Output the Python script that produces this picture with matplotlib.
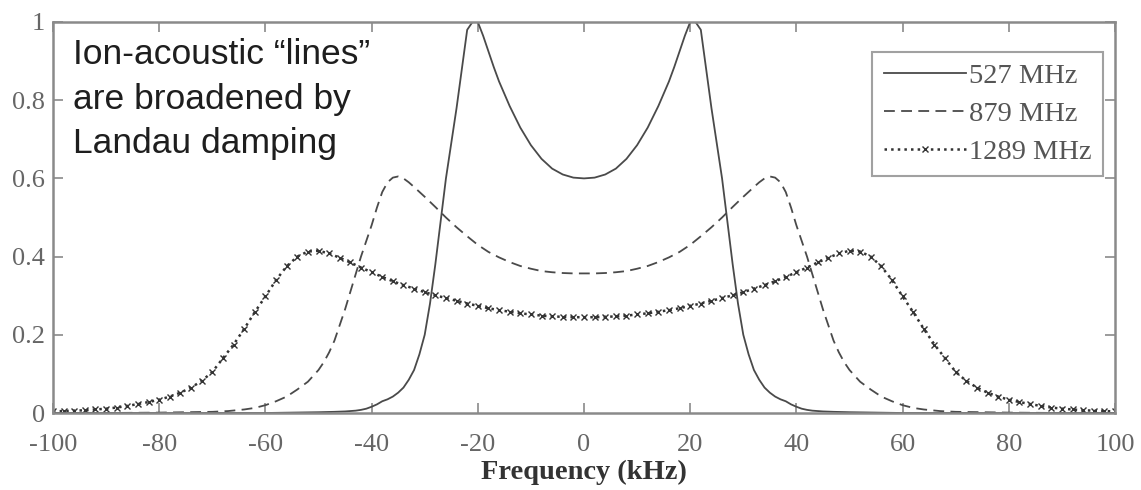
import matplotlib
matplotlib.use("Agg")
import matplotlib.pyplot as plt

# espectros de iones, amplitud normalizada
frec_527 = [-100, -90, -80, -70, -60, -55, -50, -47, -45, -43, -42, -41, -40, -39, -38, -37, -36, -35,
            -34, -33, -32, -31, -30, -29, -28, -27, -26, -25, -24, -23, -22, -21, -20, -19, -18, -17,
            -16, -14, -12, -10, -8, -6, -4, -2, 0,
            2, 4, 6, 8, 10, 12, 14, 16, 17, 18, 19, 20, 21, 22, 23, 24, 25, 26, 27, 28, 29, 30, 31,
            32, 33, 34, 35, 36, 37, 38, 39, 40, 41, 42, 43, 45, 47, 50, 55, 60, 70, 80, 90, 100]
amp_527 = [0, 0, 0, 0, 0, 0.001, 0.002, 0.003, 0.004, 0.006, 0.008, 0.011, 0.016, 0.022, 0.03, 0.035,
           0.042, 0.052, 0.065, 0.085, 0.11, 0.15, 0.2, 0.28, 0.38, 0.49, 0.6, 0.69, 0.78, 0.88, 0.98,
           1.0, 1.0, 0.965, 0.925, 0.885, 0.848, 0.785, 0.73, 0.685, 0.65, 0.625, 0.61, 0.602, 0.6,
           0.602, 0.61, 0.625, 0.65, 0.685, 0.73, 0.785, 0.848, 0.885, 0.925, 0.965, 1.0, 1.0, 0.98,
           0.88, 0.78, 0.69, 0.6, 0.49, 0.38, 0.28, 0.2, 0.15, 0.11, 0.085, 0.065, 0.052, 0.042,
           0.035, 0.03, 0.022, 0.016, 0.011, 0.008, 0.006, 0.004, 0.003, 0.002, 0.001, 0, 0, 0, 0, 0]

frec_879 = [-100, -90, -80, -75, -70, -67, -64, -62, -60, -58, -56, -54, -52, -50, -49, -48, -47, -46,
            -45, -44, -43, -42, -41, -40, -39, -38, -37, -36, -35, -34, -33, -32, -30, -28, -26, -24,
            -22, -20, -18, -16, -14, -12, -10, -8, -6, -4, -2, 0,
            2, 4, 6, 8, 10, 12, 14, 16, 18, 20, 22, 24, 26, 28, 30, 32, 33, 34, 35, 36, 37, 38, 39,
            40, 41, 42, 43, 44, 45, 46, 47, 48, 49, 50, 52, 54, 56, 58, 60, 62, 64, 67, 70, 75, 80,
            90, 100]
amp_879 = [0, 0, 0.001, 0.002, 0.003, 0.005, 0.009, 0.013, 0.02, 0.03, 0.042, 0.06, 0.08, 0.11, 0.13,
           0.155, 0.185, 0.225, 0.265, 0.31, 0.355, 0.4, 0.44, 0.48, 0.525, 0.565, 0.59, 0.602, 0.605,
           0.6, 0.59, 0.578, 0.553, 0.527, 0.5, 0.475, 0.452, 0.43, 0.412, 0.398, 0.386, 0.376, 0.369,
           0.363, 0.36, 0.358, 0.357, 0.357,
           0.357, 0.358, 0.36, 0.363, 0.369, 0.376, 0.386, 0.398, 0.412, 0.43, 0.452, 0.475, 0.5,
           0.527, 0.553, 0.578, 0.59, 0.6, 0.605, 0.602, 0.59, 0.565, 0.525, 0.48, 0.44, 0.4, 0.355,
           0.31, 0.265, 0.225, 0.185, 0.155, 0.13, 0.11, 0.08, 0.06, 0.042, 0.03, 0.02, 0.013, 0.009,
           0.005, 0.003, 0.002, 0.001, 0, 0]

frec_1289 = list(range(-100, 101, 2))
amp_1289 = [0.004, 0.005, 0.006, 0.007, 0.009, 0.011, 0.014, 0.018, 0.023, 0.028, 0.034, 0.042, 0.052,
            0.065, 0.082, 0.105, 0.14, 0.175, 0.215, 0.258, 0.298, 0.34, 0.375, 0.4, 0.413, 0.415,
            0.408, 0.397, 0.385, 0.372, 0.36, 0.348, 0.337, 0.327, 0.318, 0.309, 0.301, 0.294, 0.287,
            0.28, 0.274, 0.268, 0.263, 0.259, 0.255, 0.252, 0.249, 0.247, 0.246, 0.245, 0.245,
            0.245, 0.246, 0.247, 0.249, 0.252, 0.255, 0.259, 0.263, 0.268, 0.274, 0.28, 0.287, 0.294,
            0.301, 0.309, 0.318, 0.327, 0.337, 0.348, 0.36, 0.372, 0.385, 0.397, 0.408, 0.415, 0.413,
            0.4, 0.375, 0.34, 0.298, 0.258, 0.215, 0.175, 0.14, 0.105, 0.082, 0.065, 0.052, 0.042,
            0.034, 0.028, 0.023, 0.018, 0.014, 0.011, 0.009, 0.007, 0.006, 0.005, 0.004]

xticks = [-100, -80, -60, -40, -20, 0, 20, 40, 60, 80, 100]
yticks = [0, 0.2, 0.4, 0.6, 0.8, 1]
ytick_labels = ["0", "0.2", "0.4", "0.6", "0.8", "1"]

plt.rcParams["axes.unicode_minus"] = False
plt.rcParams["font.family"] = ["Liberation Serif", "DejaVu Serif"]

gris = "#4a4a4a"
gris_ejes = "#8a8a8a"

fig = plt.figure(figsize=(11.41, 4.90), dpi=100)
ax = fig.add_axes([53 / 1141, 1 - 413 / 490, 1062 / 1141, 391 / 490])

ax.plot(frec_527, amp_527, "-", color=gris, lw=1.3, label="527 MHz")
ax.plot(frec_879, amp_879, "--", color=gris, lw=1.3, dashes=(6, 3.5), label="879 MHz")
ax.plot(frec_1289, amp_1289, ":", color="#333333", lw=1.8, marker="x", ms=4, mew=1.0,
        label="1289 MHz")

ax.set_xlim(-100, 100)
ax.set_ylim(0, 1)
ax.set_xticks(xticks)
ax.set_yticks(yticks)
ax.set_yticklabels(ytick_labels)
ax.tick_params(direction="in", length=7, width=1.2, color=gris_ejes, top=True, right=True,
               labelsize=19, labelcolor="#666666")
ax.tick_params(axis="x", pad=15)
ax.tick_params(axis="y", pad=6)
for s in ax.spines.values():
    s.set_color(gris_ejes)
    s.set_linewidth(1.8)

ax.set_xlabel("Frequency (kHz)", fontsize=20.5, fontweight="bold", color="#333333", labelpad=3)

leg = ax.legend(loc="upper right", bbox_to_anchor=(1103 / 1141, 1 - 52 / 490),
                bbox_transform=fig.transFigure, borderaxespad=0, fancybox=False,
                fontsize=20.5, handlelength=2.9, handletextpad=0.1, labelspacing=0.42,
                borderpad=0.4, labelcolor="#555555")
leg.get_frame().set_edgecolor(gris_ejes)
leg.get_frame().set_linewidth(1.5)

fig.text(73 / 1141, 1 - 38 / 490, "Ion-acoustic \u201clines\u201d\nare broadened by\nLandau damping",
         family=["Liberation Sans", "DejaVu Sans"], fontsize=25.5, color="#1e1e1e",
         va="top", ha="left", linespacing=1.45)

fig.savefig("out.png", dpi=100)
